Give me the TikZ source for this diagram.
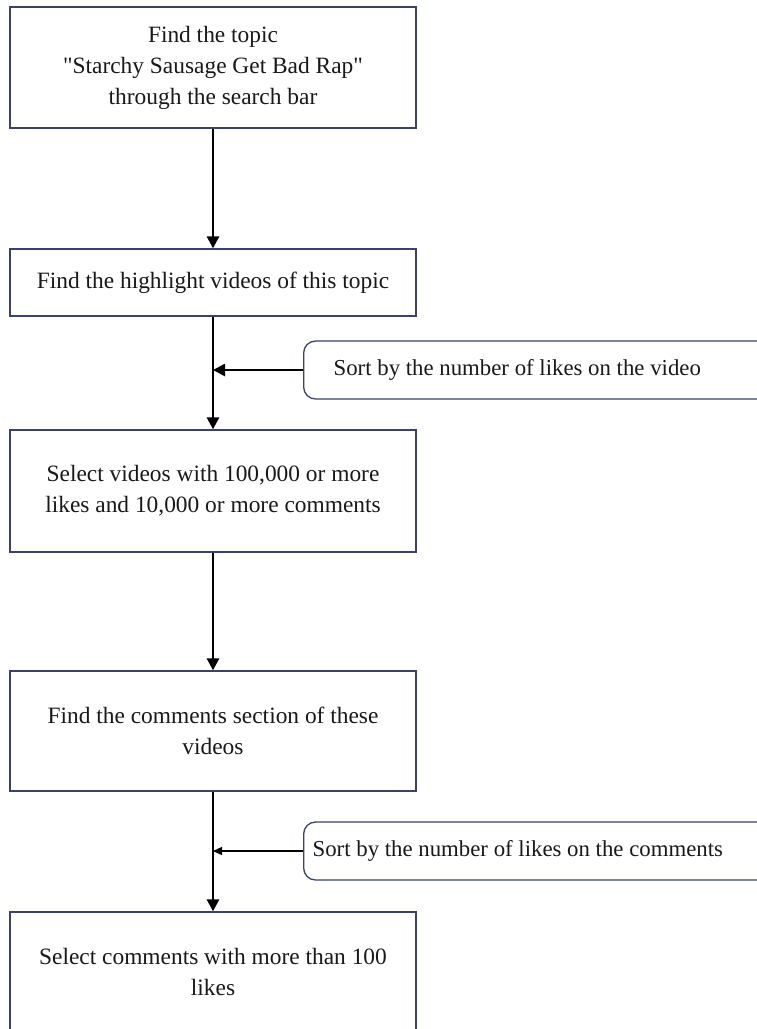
\documentclass[tikz,border=0pt]{standalone}
\usepackage{fontspec}
\setmainfont{Liberation Serif}
\usetikzlibrary{arrows.meta}
\definecolor{boxline}{RGB}{58,66,108}
\definecolor{boxtext}{RGB}{25,25,25}
\tikzset{
    stepbox/.style={draw=boxline, line width=1.3pt, minimum width=406pt, align=center,
        text=boxtext, font=\fontsize{23.4}{31}\selectfont},
    sidebox/.style={draw=boxline, line width=1.3pt, rounded corners=12pt, anchor=west,
        minimum height=58pt, text=boxtext, font=\fontsize{22.8}{30}\selectfont},
    flow/.style={-{Triangle[width=12pt,length=12pt]}, line width=2.6pt},
    thinflow/.style={-{Triangle[width=8pt,length=9pt]}, line width=1.3pt},
}
\begin{document}
\begin{tikzpicture}[x=1pt, y=-1pt]
        \useasboundingbox (0,0) rectangle (757,1029);
        \fill[white] (0,0) rectangle (757,1029);
        \clip (0,0) rectangle (757,1029);
        % main steps
        \node[stepbox, minimum height=121pt] (topic) at (213,67.5) {Find the topic\\\textquotedbl Starchy Sausage Get Bad Rap\textquotedbl\\through the search bar};
        \node[stepbox, minimum height=67pt] (highlight) at (213,282.5) {Find the highlight videos of this topic};
        \node[stepbox, minimum height=122pt] (select) at (213,491) {Select videos with 100,000 or more\\likes and 10,000 or more comments};
        \node[stepbox, minimum height=120pt] (section) at (213,731) {Find the comments section of these\\videos};
        \node[stepbox, minimum height=120pt] (final) at (213,972) {Select comments with more than 100\\likes};
        % sorting rules
        \node[sidebox, inner xsep=30pt] (sortvideo) at (303,370) {\makebox[420pt][l]{Sort by the number of likes on the video}};
        \node[sidebox, inner xsep=9pt] (sortcomment) at (303,851) {\makebox[462pt][l]{Sort by the number of likes on the comments}};
        \coordinate (joinvideo) at (highlight.south |- sortvideo.west);
        \coordinate (joincomment) at (section.south |- sortcomment.west);
        % connectors
        \draw[flow] (topic) -- (highlight);
        \draw[flow] (highlight) -- (select);
        \draw[flow] (sortvideo) -- (joinvideo);
        \draw[flow] (select) -- (section);
        \draw[flow] (section) -- (final);
        \draw[thinflow] (sortcomment) -- (joincomment);
    \end{tikzpicture}
\end{document}
